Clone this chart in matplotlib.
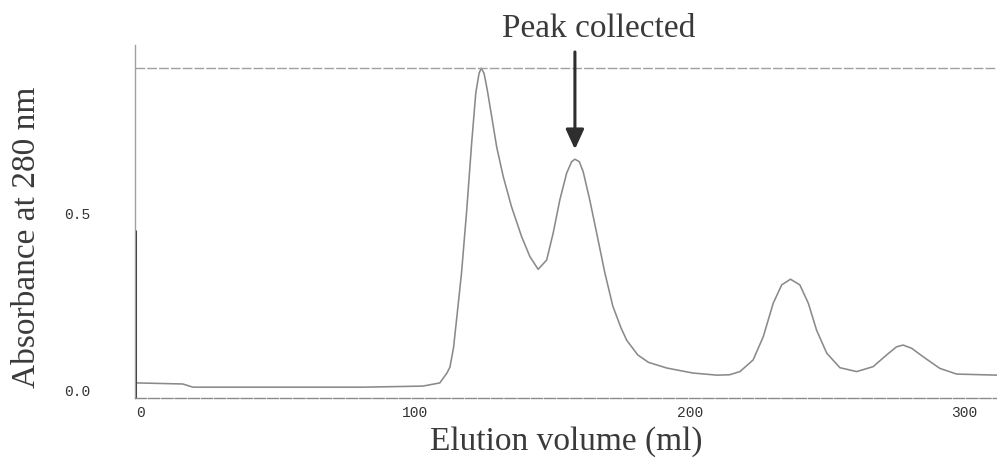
import matplotlib
matplotlib.use("Agg")
import matplotlib.pyplot as plt

# Trace (ml, A280)
volume = [-1.3, 15.4, 19.1, 44.6, 81.0, 102.8, 109.0, 111.6, 112.7, 114.0,
          115.2, 116.9, 118.8, 120.6, 122.1, 123.3, 124.1, 125.1, 126.3, 127.9,
          129.7, 132.1, 135.1, 138.8, 141.8, 144.8, 147.9, 150.3, 152.7, 155.2,
          157.0, 158.2, 159.8, 161.2, 163.6, 166.1, 169.1, 172.0, 175.0, 177.1,
          181.1, 185.0, 191.7, 201.1, 209.9, 214.5, 218.3, 223.1, 226.8, 230.4,
          233.5, 236.7, 240.1, 243.2, 246.2, 249.9, 254.7, 260.8, 266.8, 271.7,
          275.3, 277.7, 280.8, 285.0, 291.1, 297.2, 311.9]
absorbance = [0.020, 0.017, 0.008, 0.008, 0.008, 0.011, 0.020, 0.048, 0.065, 0.120,
              0.206, 0.330, 0.508, 0.698, 0.839, 0.895, 0.909, 0.895, 0.847, 0.772,
              0.687, 0.603, 0.518, 0.433, 0.377, 0.341, 0.367, 0.444, 0.537, 0.613,
              0.645, 0.652, 0.645, 0.617, 0.537, 0.444, 0.331, 0.237, 0.175, 0.140,
              0.099, 0.078, 0.062, 0.048, 0.042, 0.043, 0.052, 0.085, 0.151, 0.245,
              0.297, 0.313, 0.297, 0.245, 0.169, 0.104, 0.063, 0.052, 0.066, 0.099,
              0.122, 0.127, 0.118, 0.094, 0.061, 0.045, 0.042]

x_ticks = [0, 100, 200, 300]
y_ticks = [0.0, 0.5]
y_tick_labels = ["0.0", "0.5"]

full_scale = 0.91          # recorder full-scale line
pen_x = -1.9               # pen drop at start of run
pen_top = 0.452
pen_bottom = -0.022
collected_peak = (158.2, 0.652)

fig = plt.figure(figsize=(9.97, 4.58), dpi=100)
ax = fig.add_axes([0.1354, 0.131, 0.8646, 0.771])

ax.plot(volume, absorbance, color="#8a8a8a", lw=1.15,
        solid_joinstyle="round", solid_capstyle="round")
ax.plot([pen_x, pen_x], [pen_bottom, pen_top], color="#333333", lw=2.2,
        solid_capstyle="butt")
ax.axhline(full_scale, color="#a0a0a0", lw=1.0, ls=(0, (7, 1.5)))

ax.set_xlim(-2.0, 311.9)
ax.set_ylim(-0.0226, 0.975)

for side in ["top", "right"]:
    ax.spines[side].set_visible(False)
ax.spines["left"].set_color("#a0a0a0")
ax.spines["left"].set_linewidth(1.0)
ax.spines["bottom"].set_color("#8a8a8a")
ax.spines["bottom"].set_linewidth(1.0)
ax.spines["bottom"].set_linestyle((0, (8, 1.5)))

mono = {"family": "Liberation Mono", "size": 10.5, "color": "#333333"}
ax.set_xticks(x_ticks)
ax.set_xticklabels([str(t) for t in x_ticks], fontdict=mono)
ax.set_yticks(y_ticks)
ax.set_yticklabels(y_tick_labels, fontdict=mono)
ax.tick_params(axis="x", length=0, pad=6)
ax.tick_params(axis="y", length=0, pad=32)

serif = {"family": "Liberation Serif", "size": 24, "color": "#3a3a3a"}
ax.set_xlabel("Elution volume (ml)", fontdict=serif, labelpad=4)
ax.set_ylabel("Absorbance at 280 nm", fontdict=serif)
ax.yaxis.label.set_va("center")
ax.yaxis.set_label_coords(-0.125, 0.455)

# arrow pointing at the fraction that was pooled
ax.annotate("", xy=(collected_peak[0], collected_peak[1] + 0.028),
            xytext=(collected_peak[0], 0.955),
            arrowprops=dict(arrowstyle="-|>,head_width=0.55,head_length=1.2",
                            color="#2e2e2e", lw=2.2, shrinkA=0, shrinkB=0))
fig.text(0.600, 0.938, "Peak collected", ha="center", va="center",
         fontdict=serif)

fig.savefig("out.png", dpi=100, facecolor="white")
